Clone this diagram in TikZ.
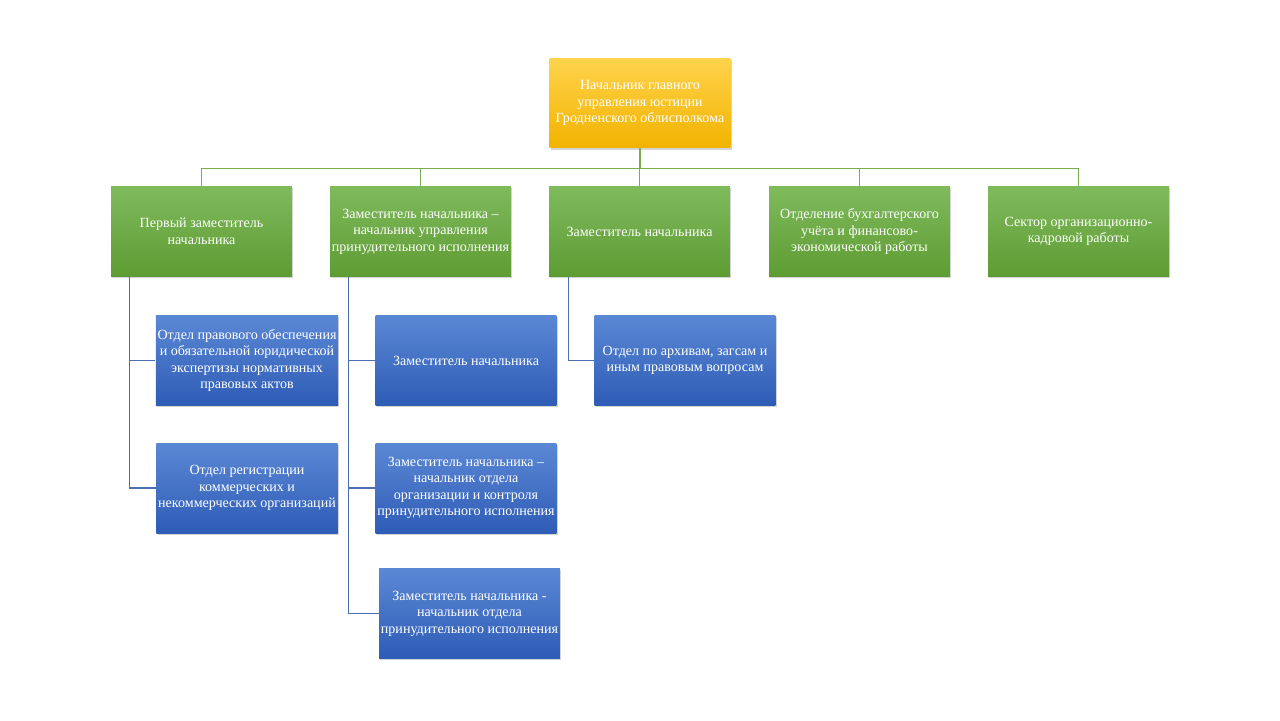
\documentclass[tikz,border=0pt]{standalone}
\usepackage{fontspec}
\setmainfont{Liberation Serif}
\usetikzlibrary{shadows,positioning}
\definecolor{goldtop}{HTML}{FFD34C}
\definecolor{goldbot}{HTML}{F2B300}
\definecolor{greentop}{HTML}{7FBA5C}
\definecolor{greenbot}{HTML}{5E9C33}
\definecolor{bluetop}{HTML}{5B88D4}
\definecolor{bluebot}{HTML}{2E5CB6}
\definecolor{greenline}{HTML}{78AD50}
\definecolor{blueline}{HTML}{4A6FB0}
\tikzset{
  unit/.style={
    rectangle,
    align=center,
    text=white,
    inner sep=1pt,
    minimum width=3.62cm,
    minimum height=1.8cm,
    font=\fontsize{8}{9.4}\selectfont,
    drop shadow={opacity=0.35, shadow xshift=0.7pt, shadow yshift=-0.9pt},
  },
  head/.style={unit, top color=goldtop, bottom color=goldbot},
  dept/.style={unit, top color=greentop, bottom color=greenbot},
  sub/.style={unit, top color=bluetop, bottom color=bluebot},
  trunk/.style={draw=greenline, line width=0.6pt},
  branch/.style={draw=blueline, line width=0.6pt},
}

\begin{document}
\begin{tikzpicture}[x=0.02cm, y=-0.02cm]
  \useasboundingbox (0,0) rectangle (1280,720);

  \node[head] (chief) at (640,103) {Начальник  главного\\управления юстиции\\Гродненского облисполкома};

  \node[dept] (first)   at (201.5,231.5) {Первый заместитель\\начальника};
  \node[dept] (forced)  at (420.5,231.5) {Заместитель  начальника –\\начальник  управления\\принудительного  исполнения};
  \node[dept] (deputy)  at (639.5,231.5) {Заместитель  начальника};
  \node[dept] (account) at (859.5,231.5) {Отделение  бухгалтерского\\учёта и финансово-\\экономической работы};
  \node[dept] (staff)   at (1078.5,231.5) {Сектор  организационно-\\кадровой работы};

  \foreach \d in {first,forced,deputy,account,staff}
    \draw[trunk] (chief.south) -- ++(0,20) -| (\d.north);

  \node[sub] (legal) at (247,360.5) {Отдел правового обеспечения\\и обязательной  юридической\\экспертизы нормативных\\правовых актов};
  \node[sub] (reg)   at (247,488) {Отдел  регистрации\\коммерческих и\\некоммерческих организаций};

  \node[sub] (dep1) at (466,360.5) {Заместитель  начальника};
  \node[sub] (dep2) at (466,488) {Заместитель  начальника –\\начальник  отдела\\организации  и контроля\\принудительного  исполнения};
  \node[sub] (dep3) at (469.5,613.5) {Заместитель  начальника  -\\начальник  отдела\\принудительного  исполнения};

  \node[sub] (arch) at (685,360.5) {Отдел  по архивам, загсам и\\иным  правовым вопросам};

  \foreach \s in {legal,reg}
    \draw[branch] ([xshift=0.38cm]first.south west) |- (\s.west);
  \foreach \s in {dep1,dep2,dep3}
    \draw[branch] ([xshift=0.38cm]forced.south west) |- (\s.west);
  \draw[branch] ([xshift=0.4cm]deputy.south west) |- (arch.west);
\end{tikzpicture}
\end{document}
